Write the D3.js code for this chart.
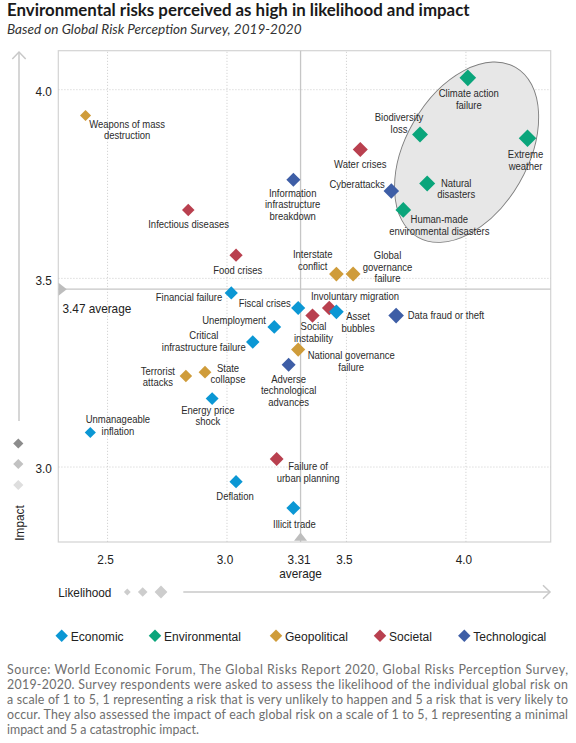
<!DOCTYPE html>
<html>
<head>
<meta charset="utf-8">
<script src="https://cdn.jsdelivr.net/npm/d3@7"></script>
<style>
  html, body { margin: 0; padding: 0; background: #fff; }
  svg { display: block; }
</style>
</head>
<body>
<script>
// ---------------- DATA ----------------
const categories = ["Economic", "Environmental", "Geopolitical", "Societal", "Technological"];
const categoryColors = ["#0b97d4", "#0aa57b", "#cf9c3a", "#b9404f", "#3e5ea6"];

const risks = [
  "Climate action failure", "Biodiversity loss", "Extreme weather", "Water crises",
  "Natural disasters", "Cyberattacks", "Human-made environmental disasters",
  "Information infrastructure breakdown", "Infectious diseases", "Food crises",
  "Weapons of mass destruction", "Interstate conflict", "Global governance failure",
  "Financial failure", "Fiscal crises", "Involuntary migration", "Social instability",
  "Asset bubbles", "Data fraud or theft", "Unemployment", "Critical infrastructure failure",
  "National governance failure", "Adverse technological advances", "State collapse",
  "Terrorist attacks", "Energy price shock", "Unmanageable inflation",
  "Failure of urban planning", "Deflation", "Illicit trade"
];
const riskCategory = [
  "Environmental", "Environmental", "Environmental", "Societal",
  "Environmental", "Technological", "Environmental",
  "Technological", "Societal", "Societal",
  "Geopolitical", "Geopolitical", "Geopolitical",
  "Economic", "Economic", "Societal", "Societal",
  "Economic", "Technological", "Economic", "Economic",
  "Geopolitical", "Technological", "Geopolitical",
  "Geopolitical", "Economic", "Economic",
  "Societal", "Economic", "Economic"
];
const likelihood = [
  4.01, 3.81, 4.26, 3.56,
  3.84, 3.69, 3.74,
  3.28, 2.84, 3.04,
  2.41, 3.46, 3.53,
  3.02, 3.30, 3.43, 3.36,
  3.46, 3.71, 3.20, 3.11,
  3.30, 3.26, 2.91,
  2.83, 2.94, 2.43,
  3.21, 3.04, 3.28
];
const impact = [
  4.03, 3.88, 3.87, 3.84,
  3.75, 3.73, 3.68,
  3.76, 3.68, 3.56,
  3.93, 3.51, 3.51,
  3.46, 3.42, 3.42, 3.40,
  3.41, 3.40, 3.37, 3.33,
  3.31, 3.27, 3.25,
  3.24, 3.18, 3.09,
  3.02, 2.96, 2.89
];
const labelLines = [
  ["Climate action", "failure"], ["Biodiversity", "loss"], ["Extreme", "weather"], ["Water crises"],
  ["Natural", "disasters"], ["Cyberattacks"], ["Human-made", "environmental disasters"],
  ["Information", "infrastructure", "breakdown"], ["Infectious diseases"], ["Food crises"],
  ["Weapons of mass", "destruction"], ["Interstate", "conflict"], ["Global", "governance", "failure"],
  ["Financial failure"], ["Fiscal crises"], ["Involuntary migration"], ["Social", "instability"],
  ["Asset", "bubbles"], ["Data fraud or theft"], ["Unemployment"], ["Critical", "infrastructure failure"],
  ["National governance", "failure"], ["Adverse", "technological", "advances"], ["State", "collapse"],
  ["Terrorist", "attacks"], ["Energy price", "shock"], ["Unmanageable", "inflation"],
  ["Failure of", "urban planning"], ["Deflation"], ["Illicit trade"]
];

const xTicks = [2.5, 3.0, 3.5, 4.0];
const yTicks = [3.0, 3.5, 4.0];
const avgLikelihood = 3.31;
const avgImpact = 3.47;
const xDomain = [2.296, 4.357];
const yDomain = [2.80, 4.102];
// highlighted environmental cluster (centre in data units)
const clusterCentre = [4.005, 3.833];

const titleText = "Environmental risks perceived as high in likelihood and impact";
const subtitleText = "Based on Global Risk Perception Survey, 2019-2020";
const footerLines = [
  "Source: World Economic Forum, The Global Risks Report 2020, Global Risks Perception Survey,",
  "2019-2020. Survey respondents were asked to assess the likelihood of the individual global risk on",
  "a scale of 1 to 5, 1 representing a risk that is very unlikely to happen and 5 a risk that is very likely to",
  "occur. They also assessed the impact of each global risk on a scale of 1 to 5, 1 representing a minimal",
  "impact and 5 a catastrophic impact."
];

// ---------------- LAYOUT (label offsets: dx, dy of first line, anchor) ----------------
const labelLayout = {
  "Climate action failure": [1, 15.6, "middle"],
  "Biodiversity loss": [-21, -17.3, "middle"],
  "Extreme weather": [-2, 16.3, "middle"],
  "Water crises": [0, 14.3, "middle"],
  "Natural disasters": [29, -0.7, "middle"],
  "Cyberattacks": [-6.5, -7.3, "end"],
  "Human-made environmental disasters": [36, 9.6, "middle"],
  "Information infrastructure breakdown": [-0.7, 13, "middle"],
  "Infectious diseases": [0.3, 14, "middle"],
  "Food crises": [1.7, 15.3, "middle"],
  "Weapons of mass destruction": [41.6, 8.4, "middle"],
  "Interstate conflict": [-23.7, -20, "middle"],
  "Global governance failure": [34.4, -18.7, "middle"],
  "Financial failure": [-9, 4.6, "end"],
  "Fiscal crises": [-7.3, -5, "end"],
  "Involuntary migration": [25.7, -12, "middle"],
  "Social instability": [1, 11, "middle"],
  "Asset bubbles": [21.6, 4.6, "middle"],
  "Data fraud or theft": [11.6, 0, "start"],
  "Unemployment": [-8.3, -6.4, "end"],
  "Critical infrastructure failure": [-49, -6.7, "middle"],
  "National governance failure": [53, 6, "middle"],
  "Adverse technological advances": [0, 14.3, "middle"],
  "State collapse": [23, -4.3, "middle"],
  "Terrorist attacks": [-28, -5, "middle"],
  "Energy price shock": [-4.3, 11.3, "middle"],
  "Unmanageable inflation": [27.6, -13.4, "middle"],
  "Failure of urban planning": [31.4, 7.4, "middle"],
  "Deflation": [-1, 14.3, "middle"],
  "Illicit trade": [1, 16, "middle"]
};

const W = 576, H = 743;
const plot = { left: 58.3, right: 550.7, top: 50.7, bottom: 542 };
const condensed = "'Liberation Sans', Arial, sans-serif";
const squeeze = 0.88;   // horizontal compression to imitate a condensed face
const humanist = "Lato, 'Open Sans', sans-serif";

const svg = d3.select("body").append("svg").attr("width", W).attr("height", H);

const x = d3.scaleLinear().domain(xDomain).range([plot.left, plot.right]);
const y = d3.scaleLinear().domain(yDomain).range([plot.bottom, plot.top]);
const color = d3.scaleOrdinal().domain(categories).range(categoryColors);
// marker size (diagonal, px) grows with likelihood
const markerSize = d3.scaleLinear().domain([2.4, 4.26]).range([11, 17.5]);

const data = risks.map((name, i) => ({
  name, cat: riskCategory[i], lx: likelihood[i], im: impact[i], lines: labelLines[i]
}));

function cText(parent, tx, ty, str, size, anchor) {
  return parent.append("text")
    .attr("transform", `translate(${tx},${ty}) scale(${squeeze},1)`)
    .attr("text-anchor", anchor || "start")
    .attr("font-family", condensed).attr("font-size", size).attr("fill", "#222")
    .text(str);
}

// ---------- title ----------
function fitText(sel, target) {
  const w = sel.node().getComputedTextLength();
  const fs = parseFloat(sel.attr("font-size"));
  sel.attr("font-size", (fs * target / w).toFixed(2));
}
const title = svg.append("text").attr("x", 7).attr("y", 16)
  .attr("font-family", humanist).attr("font-weight", 700).attr("font-size", 15)
  .attr("fill", "#1a1a1a").text(titleText);
fitText(title, 463);
const sub = svg.append("text").attr("x", 7).attr("y", 34)
  .attr("font-family", humanist).attr("font-style", "italic").attr("font-size", 12)
  .attr("fill", "#333").text(subtitleText);
fitText(sub, 295);

// ---------- frame & grid ----------
const g = svg.append("g");
g.append("rect").attr("x", plot.left).attr("y", plot.top)
  .attr("width", plot.right - plot.left).attr("height", plot.bottom - plot.top)
  .attr("fill", "none").attr("stroke", "#d3d3d3").attr("stroke-width", 1.2);

const gridX = g.append("g").attr("transform", `translate(0,${plot.bottom})`)
  .call(d3.axisBottom(x).tickValues(xTicks).tickSize(-(plot.bottom - plot.top)).tickFormat(""));
const gridY = g.append("g").attr("transform", `translate(${plot.left},0)`)
  .call(d3.axisLeft(y).tickValues(yTicks).tickSize(-(plot.right - plot.left)).tickFormat(""));
[gridX, gridY].forEach(a => {
  a.select(".domain").remove();
  a.selectAll("line").attr("stroke", "#c9c9c9").attr("stroke-width", 0.8).attr("stroke-dasharray", "1.2,1.8");
});

// ---------- environmental cluster ellipse ----------
g.append("ellipse")
  .attr("transform", `translate(${x(clusterCentre[0])},${y(clusterCentre[1])}) rotate(30)`)
  .attr("rx", 61).attr("ry", 98)
  .attr("fill", "#e7e7e7").attr("stroke", "#7d7d7d").attr("stroke-width", 0.9);

// ---------- average lines ----------
g.append("line").attr("x1", x(avgLikelihood)).attr("x2", x(avgLikelihood))
  .attr("y1", plot.top).attr("y2", plot.bottom).attr("stroke", "#c6c6c6").attr("stroke-width", 1.3);
g.append("line").attr("x1", plot.left).attr("x2", plot.right)
  .attr("y1", y(avgImpact)).attr("y2", y(avgImpact)).attr("stroke", "#c6c6c6").attr("stroke-width", 1.3);
g.append("path").attr("d", d3.symbol(d3.symbolTriangle, 60)())
  .attr("transform", `translate(${x(avgLikelihood)},${plot.bottom - 4}) scale(1.1,0.8)`)
  .attr("fill", "#bdbdbd");
g.append("path").attr("d", d3.symbol(d3.symbolTriangle, 60)())
  .attr("transform", `translate(${plot.left + 3},${y(avgImpact)}) rotate(90) scale(1.1,0.8)`)
  .attr("fill", "#bdbdbd");

// ---------- tick labels ----------
const tickFont = 13.4;
const xAxis = svg.append("g").attr("transform", `translate(0,${plot.bottom})`)
  .call(d3.axisBottom(x).tickValues(xTicks.concat([avgLikelihood])).tickSize(0).tickPadding(0)
    .tickFormat(d => d === avgLikelihood ? d3.format(".2f")(d) : d3.format(".1f")(d)));
xAxis.select(".domain").remove();
xAxis.selectAll("text").attr("font-family", condensed).attr("font-size", tickFont).attr("fill", "#222")
  .attr("y", 0).attr("dy", "0.35em")
  .attr("transform", `translate(-2,17.5) scale(${squeeze},1)`);
cText(svg, x(avgLikelihood), 573.5, "average", tickFont, "middle").attr("dy", "0.35em");

const yAxis = svg.append("g").attr("transform", `translate(${plot.left},0)`)
  .call(d3.axisLeft(y).tickValues(yTicks).tickSize(0).tickPadding(0).tickFormat(d3.format(".1f")));
yAxis.select(".domain").remove();
yAxis.selectAll("text").attr("font-family", condensed).attr("font-size", tickFont).attr("fill", "#222")
  .attr("x", 0).attr("dy", "0.35em")
  .attr("transform", `translate(-6.5,1.5) scale(${squeeze},1)`);
cText(svg, 62.5, y(avgImpact) + 19, d3.format(".2f")(avgImpact) + " average", tickFont, "start")
  .attr("dy", "0.35em");

// ---------- axis arrows ----------
const axisGray = "#c8c8c8";
svg.append("line").attr("x1", 19).attr("x2", 19).attr("y1", 52).attr("y2", 421)
  .attr("stroke", axisGray).attr("stroke-width", 1.5);
svg.append("path").attr("d", "M12.3,59 L19,52 L25.7,59").attr("fill", "none")
  .attr("stroke", axisGray).attr("stroke-width", 1.5);
[["#8c8c8c", 443.5], ["#c2c2c2", 464], ["#dedede", 485]].forEach(([c, cy]) => {
  svg.append("rect").attr("x", -3.6).attr("y", -3.6).attr("width", 7.2).attr("height", 7.2)
    .attr("transform", `translate(18.3,${cy}) rotate(45)`).attr("fill", c);
});
svg.append("text").attr("transform", `translate(23.5,523) rotate(-90) scale(${squeeze},1)`)
  .attr("text-anchor", "middle")
  .attr("font-family", condensed).attr("font-size", tickFont).attr("fill", "#222").text("Impact");

cText(svg, 58.3, 592, "Likelihood", tickFont, "start").attr("dy", "0.35em");
[[127.3, 3.4], [142.7, 4.8], [161, 6.4]].forEach(([cx, hs]) => {
  svg.append("rect").attr("x", -hs / Math.SQRT2).attr("y", -hs / Math.SQRT2)
    .attr("width", hs * Math.SQRT2).attr("height", hs * Math.SQRT2)
    .attr("transform", `translate(${cx},592) rotate(45)`).attr("fill", "#cdcdcd");
});
svg.append("line").attr("x1", 183.3).attr("x2", 550).attr("y1", 592).attr("y2", 592)
  .attr("stroke", axisGray).attr("stroke-width", 1.5);
svg.append("path").attr("d", "M543,585.3 L550,592 L543,598.7").attr("fill", "none")
  .attr("stroke", axisGray).attr("stroke-width", 1.5);

// ---------- points ----------
const pts = svg.append("g").selectAll("g").data(data).join("g")
  .attr("transform", d => `translate(${x(d.lx)},${y(d.im)})`);
pts.append("rect")
  .attr("x", d => -markerSize(d.lx) / 2 / Math.SQRT2)
  .attr("y", d => -markerSize(d.lx) / 2 / Math.SQRT2)
  .attr("width", d => markerSize(d.lx) / Math.SQRT2)
  .attr("height", d => markerSize(d.lx) / Math.SQRT2)
  .attr("transform", "rotate(45)")
  .attr("fill", d => color(d.cat));

// ---------- labels ----------
const lineH = 11.6;
const labels = svg.append("g").selectAll("text").data(data).join("text")
  .attr("font-family", condensed).attr("font-size", 10.8).attr("fill", "#2b2b2b")
  .attr("text-anchor", d => labelLayout[d.name][2])
  .attr("transform", d => `translate(${x(d.lx) + labelLayout[d.name][0]},${y(d.im) + labelLayout[d.name][1]}) scale(${squeeze},1)`);
labels.selectAll("tspan").data(d => d.lines).join("tspan")
  .attr("x", 0).attr("y", (l, i) => i * lineH).attr("dy", "0.36em").text(l => l);

// ---------- legend ----------
const legendX = [61.7, 155, 276, 380, 464.3];
const lg = svg.append("g").selectAll("g").data(categories).join("g")
  .attr("transform", (d, i) => `translate(${legendX[i]},635.7)`);
lg.append("rect").attr("x", -4.4).attr("y", -4.4).attr("width", 8.8).attr("height", 8.8)
  .attr("transform", "rotate(45)").attr("fill", d => color(d));
lg.append("text").attr("transform", `translate(9,0) scale(${squeeze},1)`).attr("dy", "0.36em")
  .attr("font-family", condensed).attr("font-size", 13.7).attr("fill", "#222").text(d => d);

// ---------- footer ----------
svg.append("g").selectAll("text").data(footerLines).join("text")
  .attr("x", 7).attr("y", (d, i) => 673.5 + i * 15.1)
  .attr("font-family", humanist).attr("font-size", 12.4).attr("fill", "#6e6e6e")
  .each(function (d, i) {
    const t = d3.select(this).text(d);
    if (i < footerLines.length - 1) t.attr("textLength", 561).attr("lengthAdjust", "spacing");
  });
</script>
</body>
</html>
